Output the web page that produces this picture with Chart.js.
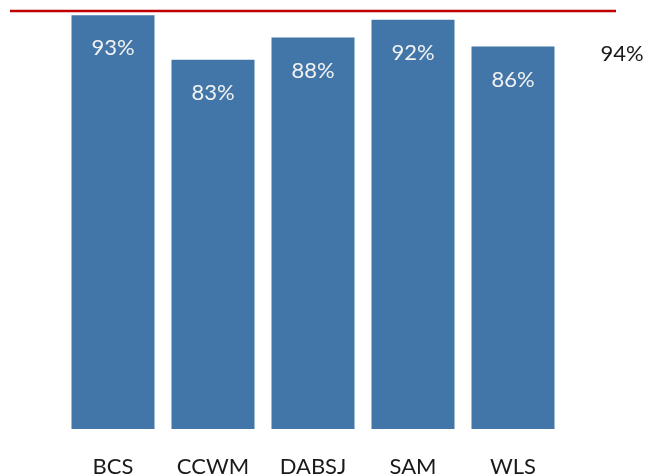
<!DOCTYPE html>
<html>
<head>
<meta charset="utf-8">
<script src="https://cdn.jsdelivr.net/npm/chart.js@4"></script>
<style>
  html, body { margin: 0; padding: 0; background: #ffffff; }
  #wrap { width: 648px; height: 475px; }
</style>
</head>
<body>
<div id="wrap"><canvas id="myChart" width="648" height="475"></canvas></div>
<script>
  let categories = ["BCS", "CCWM", "DABSJ", "SAM", "WLS"];
  let scores = [93, 83, 88, 92, 86];
  let target = 94;

  let barColor = "#4275a8";
  let lineColor = "#c00000";

  // bars sit on a linear x axis so the target line can run past the outer bars
  let points = categories.map(function (c, i) {
    return { x: i, y: scores[i] };
  });

  let labelPlugin = {
    id: "labels",
    afterDatasetsDraw: function (chart) {
      let ctx = chart.ctx;
      let area = chart.chartArea;
      let yScale = chart.scales.y;
      let meta = chart.getDatasetMeta(0);

      // target line
      let ty = yScale.getPixelForValue(target);
      ctx.save();
      ctx.strokeStyle = lineColor;
      ctx.lineWidth = 2.5;
      ctx.beginPath();
      ctx.moveTo(area.left, ty);
      ctx.lineTo(area.right, ty);
      ctx.stroke();

      ctx.font = "22px Lato";
      ctx.textAlign = "center";
      ctx.textBaseline = "middle";

      // value inside each bar
      ctx.fillStyle = "#f2f2f2";
      meta.data.forEach(function (bar, i) {
        ctx.fillText(scores[i] + "%", bar.x, bar.y + 33);
      });

      // target value
      ctx.fillStyle = "#1a1a1a";
      ctx.fillText(target + "%", area.right + 6, ty + 43);
      ctx.restore();
    },
  };

  let ctx = document.getElementById("myChart").getContext("2d");
  let chart = new Chart(ctx, {
    type: "bar",
    data: {
      datasets: [
        {
          data: points,
          backgroundColor: barColor,
          borderWidth: 0,
          barPercentage: 0.83,
          categoryPercentage: 1,
        },
      ],
    },
    options: {
      responsive: false,
      animation: false,
      layout: { padding: { left: 10, right: 32, top: 2, bottom: 0 } },
      plugins: {
        legend: { display: false },
        tooltip: { enabled: false },
      },
      scales: {
        x: {
          type: "linear",
          min: -1.03,
          max: 5.03,
          offset: false,
          grid: { display: false, drawTicks: false },
          border: { display: false },
          afterBuildTicks: function (axis) {
            axis.ticks = categories.map(function (c, i) {
              return { value: i };
            });
          },
          afterFit: function (axis) {
            axis.height = 46;
          },
          ticks: {
            padding: 28,
            maxRotation: 0,
            autoSkip: false,
            color: "#1a1a1a",
            font: { family: "Lato", size: 22, lineHeight: "20px" },
            callback: function (value) {
              return categories[value];
            },
          },
        },
        y: {
          display: false,
          min: 0,
          max: 96,
        },
      },
    },
    plugins: [labelPlugin],
  });
</script>
</body>
</html>
